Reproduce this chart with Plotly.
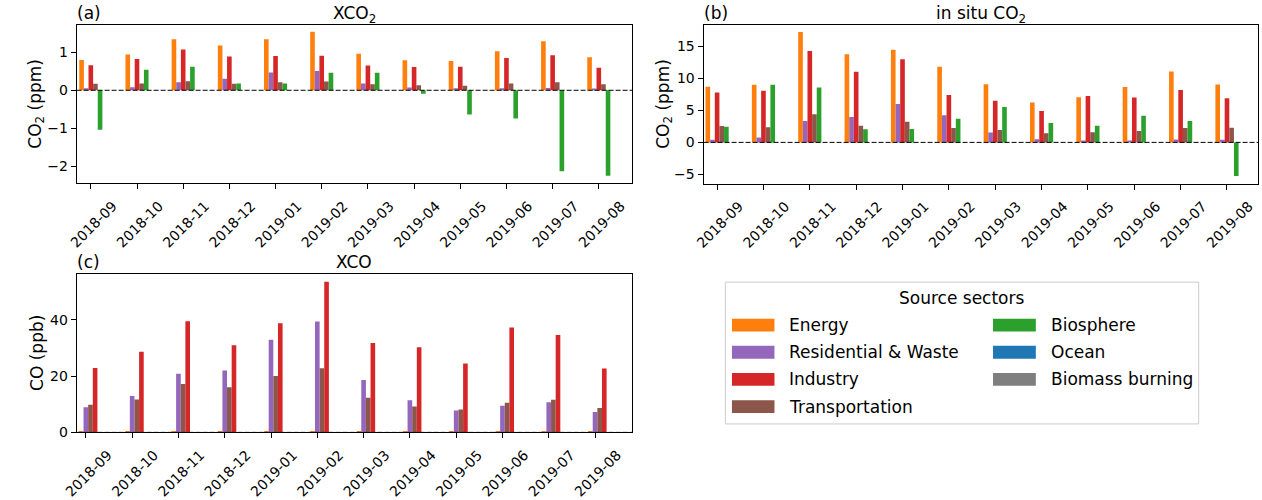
import plotly.graph_objects as go

# Monthly contributions per source sector
months = ["2018-09", "2018-10", "2018-11", "2018-12", "2019-01", "2019-02",
          "2019-03", "2019-04", "2019-05", "2019-06", "2019-07", "2019-08"]

# (a) XCO2 (ppm)
xco2_energy = [0.80, 0.94, 1.34, 1.18, 1.34, 1.54, 0.96, 0.79, 0.77, 1.03, 1.29, 0.87]
xco2_residential = [0.05, 0.08, 0.21, 0.30, 0.47, 0.51, 0.18, 0.07, 0.05, 0.05, 0.06, 0.03]
xco2_industry = [0.66, 0.82, 1.07, 0.89, 0.90, 0.91, 0.65, 0.61, 0.62, 0.85, 0.92, 0.59]
xco2_transport = [0.17, 0.18, 0.24, 0.17, 0.21, 0.23, 0.16, 0.13, 0.12, 0.18, 0.21, 0.16]
xco2_biosphere = [-1.04, 0.54, 0.62, 0.18, 0.18, 0.46, 0.46, -0.09, -0.64, -0.74, -2.13, -2.25]

# (b) in situ CO2 (ppm)
insitu_energy = [8.71, 9.01, 17.25, 13.78, 14.49, 11.83, 9.11, 6.25, 7.07, 8.65, 11.10, 9.06]
insitu_residential = [0.41, 0.77, 3.33, 3.99, 5.99, 4.25, 1.54, 0.51, 0.31, 0.31, 0.46, 0.41]
insitu_industry = [7.79, 8.09, 14.29, 11.06, 13.00, 7.43, 6.50, 4.92, 7.27, 7.02, 8.19, 6.91]
insitu_transport = [2.56, 2.35, 4.40, 2.61, 3.23, 2.25, 1.95, 1.43, 1.59, 1.79, 2.25, 2.30]
insitu_biosphere = [2.46, 9.01, 8.60, 2.05, 2.10, 3.69, 5.53, 3.02, 2.61, 4.15, 3.33, -5.27]

# (c) XCO (ppb)
xco_energy = [0.3, 0.3, 0.3, 0.3, 0.3, 0.3, 0.3, 0.3, 0.3, 0.3, 0.3, 0.3]
xco_residential = [8.9, 12.9, 20.8, 22.0, 32.9, 39.4, 18.6, 11.4, 7.8, 9.5, 10.7, 7.2]
xco_transport = [9.8, 11.7, 17.2, 16.0, 20.0, 22.8, 12.3, 9.2, 8.1, 10.5, 11.6, 8.7]
xco_industry = [22.9, 28.7, 39.5, 31.0, 38.8, 53.5, 31.8, 30.3, 24.5, 37.3, 34.6, 22.7]

sectors = ["Energy", "Residential & Waste", "Industry", "Transportation",
           "Biosphere", "Ocean", "Biomass burning"]
colors = {"Energy": "#ff7f0e", "Residential & Waste": "#9467bd", "Industry": "#d62728",
          "Transportation": "#8c564b", "Biosphere": "#2ca02c", "Ocean": "#1f77b4",
          "Biomass burning": "#7f7f7f"}

W, H = 1262, 500
FONT = "DejaVu Sans"
BW = 0.1
idx = list(range(len(months)))


def px_x(p):
    return p / W


def px_y(p):
    return 1 - p / H


fig = go.Figure()

panels = [
    ("x", "y", [("Energy", xco2_energy, -0.25), ("Residential & Waste", xco2_residential, -0.15),
                ("Industry", xco2_industry, -0.05), ("Transportation", xco2_transport, 0.05),
                ("Biosphere", xco2_biosphere, 0.15)]),
    ("x2", "y2", [("Energy", insitu_energy, -0.25), ("Residential & Waste", insitu_residential, -0.15),
                  ("Industry", insitu_industry, -0.05), ("Transportation", insitu_transport, 0.05),
                  ("Biosphere", insitu_biosphere, 0.15)]),
    ("x3", "y3", [("Energy", xco_energy, -0.15), ("Residential & Waste", xco_residential, -0.05),
                  ("Transportation", xco_transport, 0.05), ("Industry", xco_industry, 0.15)]),
]

for xa, ya, series in panels:
    for name, vals, off in series:
        fig.add_trace(go.Bar(x=idx, y=vals, width=BW, offset=off, name=name,
                             marker=dict(color=colors[name], line=dict(width=0)),
                             xaxis=xa, yaxis=ya, showlegend=False))

tickfont = dict(family=FONT, size=14, color="black")
common_x = dict(tickmode="array", tickvals=idx, ticktext=months, tickangle=-45,
                ticklabelshift=22, ticklabelstandoff=3,
                ticks="outside", ticklen=5, tickwidth=1, tickcolor="black",
                showline=True, linecolor="black", linewidth=1, mirror=True,
                showgrid=False, zeroline=False, tickfont=tickfont)
common_y = dict(ticks="outside", ticklen=5, tickwidth=1, tickcolor="black",
                showline=True, linecolor="black", linewidth=1, mirror=True,
                showgrid=False, zeroline=False, tickfont=tickfont)

# axes boxes in pixels: (left, right, top, bottom)
box_a = (63.3, 625, 25, 186.7)
box_b = (697.3, 1258, 25, 187)
box_c = (63.3, 625, 279, 440.3)

fig.update_layout(
    width=W, height=H, margin=dict(l=0, r=0, t=0, b=0),
    plot_bgcolor="white", paper_bgcolor="white", barmode="overlay",
    showlegend=False, font=dict(family=FONT, color="black"),
    xaxis=dict(domain=[px_x(box_a[0]), px_x(box_a[1])], range=[-0.308, 11.72], anchor="y", **common_x),
    yaxis=dict(domain=[px_y(box_a[3]), px_y(box_a[2])], range=[-2.45, 1.73],
               tickvals=[-2, -1, 0, 1], anchor="x", **common_y),
    xaxis2=dict(domain=[px_x(box_b[0]), px_x(box_b[1])], range=[-0.292, 11.67], anchor="y2", **common_x),
    yaxis2=dict(domain=[px_y(box_b[3]), px_y(box_b[2])], range=[-6.45, 18.43],
                tickvals=[-5, 0, 5, 10, 15], anchor="x2", **common_y),
    xaxis3=dict(domain=[px_x(box_c[0]), px_x(box_c[1])], range=[-0.20, 11.80], anchor="y3", **common_x),
    yaxis3=dict(domain=[px_y(box_c[3]), px_y(box_c[2])], range=[0, 56.3],
                tickvals=[0, 20, 40], anchor="x3", **common_y),
)

# dashed zero reference lines
for xa, ya in [("x", "y"), ("x2", "y2"), ("x3", "y3")]:
    fig.add_shape(type="line", xref=f"{xa} domain", yref=ya, x0=0, x1=1, y0=0, y1=0,
                  line=dict(color="black", width=1, dash="5px,2px"), layer="above")

ann = []
TS = 17
# panel titles and labels
for box, title, tag, dy in [(box_a, "XCO<sub>2</sub>", "(a)", 2),
                            (box_b, "in situ CO<sub>2</sub>", "(b)", 2),
                            (box_c, "XCO", "(c)", 0)]:
    ann.append(dict(x=px_x((box[0] + box[1]) / 2), y=px_y(box[2] - 12 + dy), xref="paper", yref="paper",
                    text=title, showarrow=False, xanchor="center", yanchor="middle",
                    font=dict(family=FONT, size=TS)))
    ann.append(dict(x=px_x(box[0] - 2), y=px_y(box[2] - 12), xref="paper", yref="paper",
                    text=tag, showarrow=False, xanchor="left", yanchor="middle",
                    font=dict(family=FONT, size=TS)))

# y axis titles
for xp, box, text in [(23, box_a, "CO<sub>2</sub> (ppm)"),
                      (657, box_b, "CO<sub>2</sub> (ppm)"),
                      (23, box_c, "CO (ppb)")]:
    ann.append(dict(x=px_x(xp), y=px_y((box[2] + box[3]) / 2), xref="paper", yref="paper",
                    text=text, showarrow=False, textangle=-90, xanchor="center", yanchor="middle",
                    font=dict(family=FONT, size=TS)))

# legend box
lg = (719.3, 1198, 287.3, 431.7)
fig.add_shape(type="rect", xref="paper", yref="paper",
              x0=px_x(lg[0]), x1=px_x(lg[1]), y0=px_y(lg[3]), y1=px_y(lg[2]),
              line=dict(color="#cccccc", width=1), fillcolor="white", layer="above")
ann.append(dict(x=px_x((lg[0] + lg[1]) / 2), y=px_y(303.5), xref="paper", yref="paper",
                text="Source sectors", showarrow=False, xanchor="center", yanchor="middle",
                font=dict(family=FONT, size=TS)))

row_y = [331, 358.7, 386.3, 414]
cols = [(726, 769, 782), (990, 1033.3, 1046.5)]
legend_layout = [sectors[:4], sectors[4:]]
for (sx0, sx1, tx), names in zip(cols, legend_layout):
    for ry, name in zip(row_y, names):
        fig.add_shape(type="rect", xref="paper", yref="paper",
                      x0=px_x(sx0), x1=px_x(sx1), y0=px_y(ry + 6.5), y1=px_y(ry - 6.5),
                      line=dict(width=0), fillcolor=colors[name], layer="above")
        ann.append(dict(x=px_x(tx), y=px_y(ry), xref="paper", yref="paper",
                        text=name, showarrow=False, xanchor="left", yanchor="middle",
                        font=dict(family=FONT, size=TS)))

fig.update_layout(annotations=ann)
fig.write_html("out.html",
               post_script="document.body.style.margin='0';document.body.style.overflow='hidden';")
